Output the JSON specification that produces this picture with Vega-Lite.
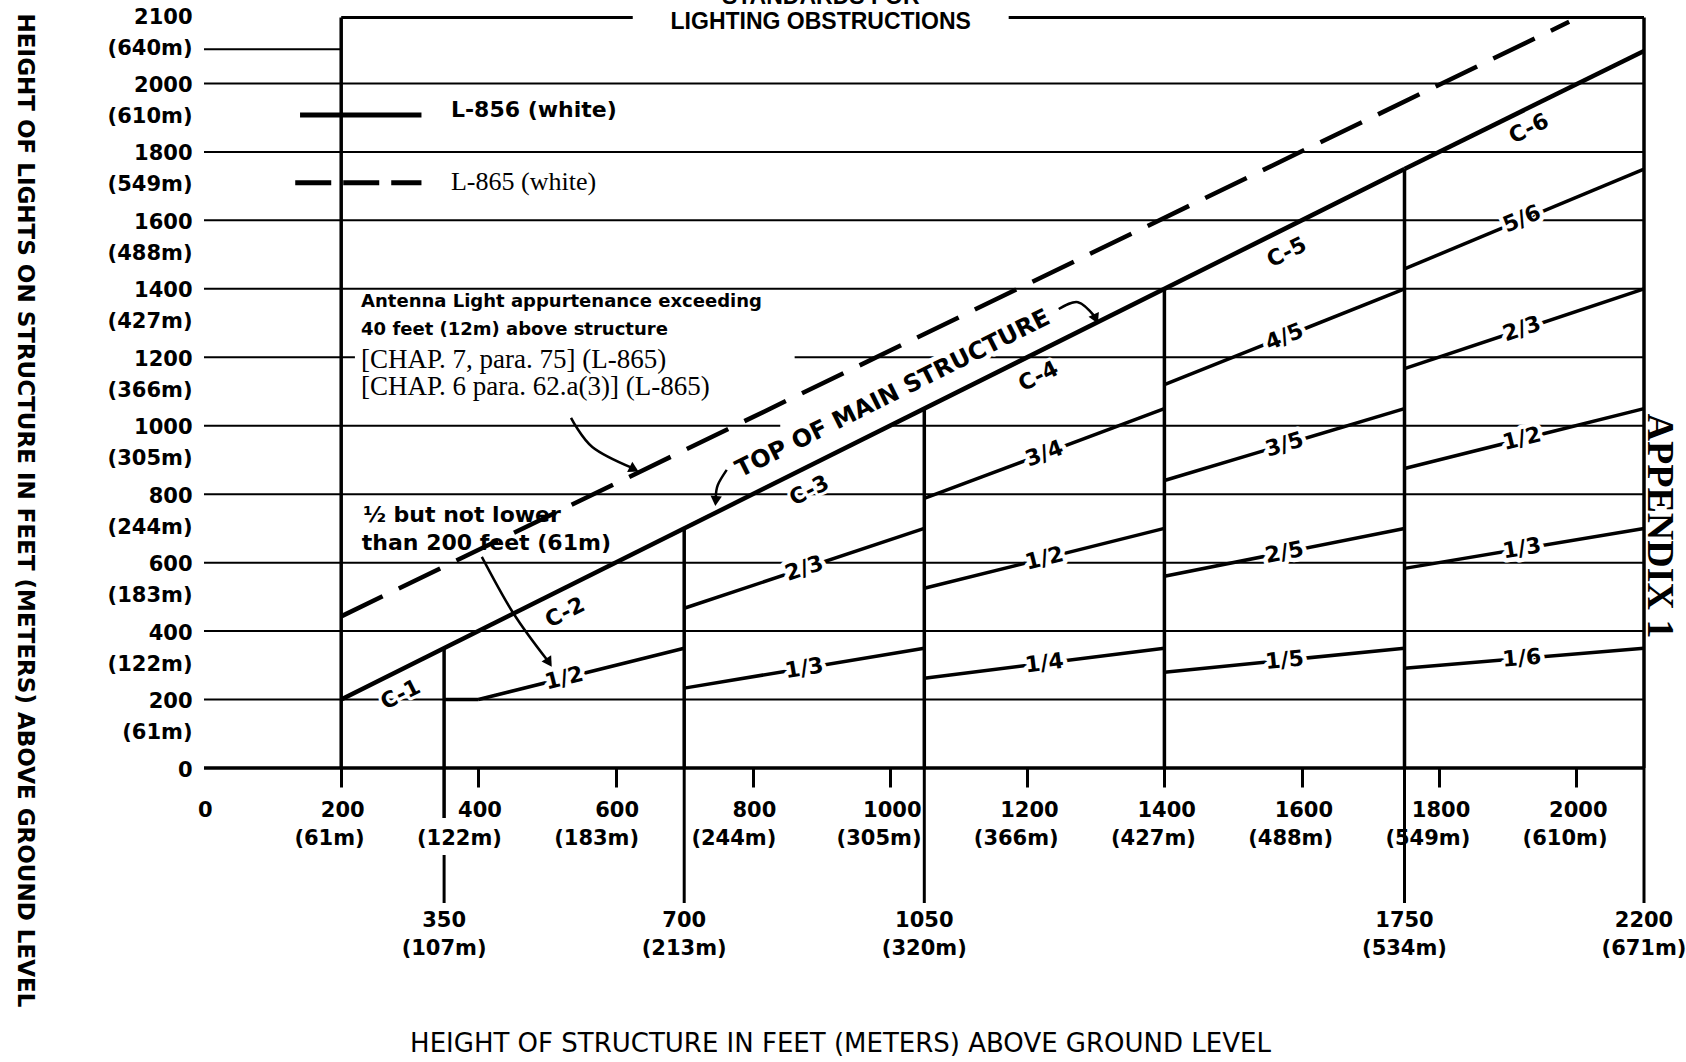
{
  "$schema": "https://vega.github.io/schema/vega-lite/v6.json",
  "width": 1440,
  "height": 753,
  "autosize": {"type": "none"},
  "padding": {"left": 204, "top": 15, "right": 42, "bottom": 294},
  "background": "white",
  "config": {"view": {"stroke": null}},
  "resolve": {"scale": {"angle": "independent"}},
  "datasets": {
    "hgrid": [
      {"x": 0, "x2": 2200, "y": 200}, {"x": 0, "x2": 2200, "y": 400}, {"x": 0, "x2": 2200, "y": 600},
      {"x": 0, "x2": 2200, "y": 800}, {"x": 0, "x2": 840, "y": 1000}, {"x": 1004, "x2": 2200, "y": 1000},
      {"x": 0, "x2": 220, "y": 1200}, {"x": 861, "x2": 2200, "y": 1200}, {"x": 0, "x2": 2200, "y": 1400},
      {"x": 0, "x2": 2200, "y": 1600}, {"x": 0, "x2": 2200, "y": 1800}, {"x": 0, "x2": 2200, "y": 2000},
      {"x": 0, "x2": 200, "y": 2100}
    ],
    "base": [{"x": 0, "x2": 2200, "y": 0}],
    "frame": [{"x": 200, "x2": 625, "y": 2193}, {"x": 1173, "x2": 2200, "y": 2193}],
    "vlines": [
      {"x": 200, "y": 0, "y2": 2193}, {"x": 350, "y": 0, "y2": 350}, {"x": 700, "y": 0, "y2": 700},
      {"x": 1050, "y": 0, "y2": 1050}, {"x": 1400, "y": 0, "y2": 1400}, {"x": 1750, "y": 0, "y2": 1750},
      {"x": 2200, "y": 0, "y2": 2193}
    ],
    "ext": [
      {"x": 700, "y": 0, "y2": 0}, {"x": 1050, "y": 0, "y2": 0},
      {"x": 1750, "y": 0, "y2": 0}, {"x": 2200, "y": 0, "y2": 0}
    ],
    "extSplit": [{"x": 350, "y": 0, "y2": 0}],
    "tops": [
      {"x": 200, "y": 200, "x2": 1750, "y2": 1750},
      {"x": 1750, "y": 1750, "x2": 2200, "y2": 2095}
    ],
    "dash": [{"x": 200, "y": 443, "x2": 1990, "y2": 2180}],
    "fracs": [
      {"x": 350, "y": 200, "x2": 400, "y2": 200},
      {"x": 400, "y": 200, "x2": 700, "y2": 350},
      {"x": 700, "y": 233.3, "x2": 1050, "y2": 350},
      {"x": 700, "y": 466.7, "x2": 1050, "y2": 700},
      {"x": 1050, "y": 262.5, "x2": 1400, "y2": 350},
      {"x": 1050, "y": 525, "x2": 1400, "y2": 700},
      {"x": 1050, "y": 787.5, "x2": 1400, "y2": 1050},
      {"x": 1400, "y": 280, "x2": 1750, "y2": 350},
      {"x": 1400, "y": 560, "x2": 1750, "y2": 700},
      {"x": 1400, "y": 840, "x2": 1750, "y2": 1050},
      {"x": 1400, "y": 1120, "x2": 1750, "y2": 1400},
      {"x": 1750, "y": 291.7, "x2": 2200, "y2": 350},
      {"x": 1750, "y": 583.3, "x2": 2200, "y2": 700},
      {"x": 1750, "y": 875, "x2": 2200, "y2": 1050},
      {"x": 1750, "y": 1166.7, "x2": 2200, "y2": 1400},
      {"x": 1750, "y": 1458.3, "x2": 2200, "y2": 1750}
    ],
    "flabels": [
      {"x": 525, "y": 262.5, "label": "1/2", "f": 0.5},
      {"x": 875, "y": 291.7, "label": "1/3", "f": 0.333},
      {"x": 875, "y": 583.3, "label": "2/3", "f": 0.667},
      {"x": 1225, "y": 306.3, "label": "1/4", "f": 0.25},
      {"x": 1225, "y": 612.5, "label": "1/2", "f": 0.5},
      {"x": 1225, "y": 918.8, "label": "3/4", "f": 0.75},
      {"x": 1575, "y": 315, "label": "1/5", "f": 0.2},
      {"x": 1575, "y": 630, "label": "2/5", "f": 0.4},
      {"x": 1575, "y": 945, "label": "3/5", "f": 0.6},
      {"x": 1575, "y": 1260, "label": "4/5", "f": 0.8},
      {"x": 1921, "y": 320.8, "label": "1/6", "f": 0.167},
      {"x": 1921, "y": 641.7, "label": "1/3", "f": 0.333},
      {"x": 1921, "y": 962.5, "label": "1/2", "f": 0.5},
      {"x": 1921, "y": 1283.3, "label": "2/3", "f": 0.667},
      {"x": 1921, "y": 1604.2, "label": "5/6", "f": 0.833}
    ],
    "clabels": [
      {"x": 272, "y": 272, "label": "C-1", "f": 1},
      {"x": 512, "y": 512, "label": "C-2", "f": 1},
      {"x": 868, "y": 868, "label": "C-3", "f": 1},
      {"x": 1202, "y": 1202, "label": "C-4", "f": 1},
      {"x": 1564, "y": 1564, "label": "C-5", "f": 1},
      {"x": 1917, "y": 1926, "label": "C-6", "f": 1}
    ],
    "toptext": [{"x": 1022, "y": 1022, "label": "TOP OF MAIN STRUCTURE", "f": 1}],
    "headline": [
      {"x": 899, "y": 2254, "label": "STANDARDS FOR"},
      {"x": 899, "y": 2180, "label": "LIGHTING OBSTRUCTIONS"}
    ],
    "notesSans": [
      {"x": 229, "y": 1362, "label": "Antenna Light appurtenance exceeding"},
      {"x": 229, "y": 1280, "label": "40 feet (12m) above structure"}
    ],
    "notesSerif": [
      {"x": 229, "y": 1192, "label": "[CHAP. 7, para. 75] (L-865)"},
      {"x": 229, "y": 1113, "label": "[CHAP. 6 para. 62.a(3)] (L-865)"}
    ],
    "notesHalf": [
      {"x": 232, "y": 739, "label": "½ but not lower"},
      {"x": 230, "y": 656, "label": "than 200 feet (61m)"}
    ],
    "legSolid": [{"x": 140, "x2": 317, "y": 1908}],
    "legDash": [{"x": 133, "x2": 317, "y": 1710}],
    "legSolidLabel": [{"x": 360, "y": 1921, "label": "L-856 (white)"}],
    "legDashLabel": [{"x": 360, "y": 1712, "label": "L-865 (white)"}],
    "xlab2": [
      {"x": 350, "y": 0, "label": "350\n(107m)"},
      {"x": 700, "y": 0, "label": "700\n(213m)"},
      {"x": 1050, "y": 0, "label": "1050\n(320m)"},
      {"x": 1750, "y": 0, "label": "1750\n(534m)"},
      {"x": 2200, "y": 0, "label": "2200\n(671m)"}
    ],
    "appendix": [{"x": 2245, "y": 707, "label": "APPENDIX 1"}],
    "arrows": [
      {"arrow": "a", "i": 1, "x": 535, "y": 1023}, {"arrow": "a", "i": 2, "x": 566, "y": 938}, {"arrow": "a", "i": 3, "x": 625, "y": 876},
      {"arrow": "b", "i": 1, "x": 1246, "y": 1341}, {"arrow": "b", "i": 2, "x": 1274, "y": 1361}, {"arrow": "b", "i": 3, "x": 1299, "y": 1318},
      {"arrow": "c", "i": 1, "x": 762, "y": 871}, {"arrow": "c", "i": 2, "x": 749, "y": 827}, {"arrow": "c", "i": 3, "x": 746, "y": 790},
      {"arrow": "d", "i": 1, "x": 405, "y": 617}, {"arrow": "d", "i": 2, "x": 451, "y": 452}, {"arrow": "d", "i": 3, "x": 500, "y": 316}
    ],
    "heads": [
      {"x": 627, "y": 873, "heading": 27},
      {"x": 1300, "y": 1312, "heading": 65},
      {"x": 746, "y": 780, "heading": 95},
      {"x": 503, "y": 308, "heading": 57}
    ]
  },
  "encoding": {
    "x": {
      "field": "x", "type": "quantitative",
      "scale": {"domain": [0, 2000, 2200], "range": [0, 1372, 1440], "nice": false, "zero": false},
      "axis": {
        "values": [0, 200, 400, 600, 800, 1000, 1200, 1400, 1600, 1800, 2000],
        "format": "d",
        "labelExpr": "datum.value == 0 ? '0' : [datum.label, '(' + round(datum.value * 0.3048) + 'm)']",
        "title": "HEIGHT OF STRUCTURE IN FEET (METERS) ABOVE GROUND LEVEL",
        "titleFont": "DejaVu Sans", "titleFontSize": 26, "titleFontWeight": "normal", "titleColor": "black",
        "titleX": 636, "titleY": 275, "titleAlign": "center", "titleBaseline": "middle", "titleAnchor": "start",
        "domain": false, "grid": false,
        "tickSize": 19, "tickWidth": 3, "tickColor": "black",
        "tickOpacity": {"condition": {"test": "datum.value == 0", "value": 0}, "value": 1},
        "labelFont": "DejaVu Sans", "labelFontSize": 21, "labelFontWeight": "bold", "labelColor": "black",
        "labelAlign": "right", "labelBaseline": "top", "labelLineHeight": 28, "labelPadding": 12,
        "labelOffset": {"condition": [{"test": "datum.value == 0", "value": 8}, {"test": "datum.value >= 1000", "value": 31}], "value": 23},
        "labelFlush": false, "labelOverlap": false, "labelBound": false
      }
    },
    "y": {
      "field": "y", "type": "quantitative",
      "scale": {"domain": [0, 2200], "nice": false, "zero": false},
      "axis": {
        "values": [0, 200, 400, 600, 800, 1000, 1200, 1400, 1600, 1800, 2000, 2100],
        "format": "d",
        "labelExpr": "datum.value == 0 ? '0' : [datum.label, '(' + round(datum.value * 0.3048) + 'm)']",
        "title": "HEIGHT OF LIGHTS ON STRUCTURE IN FEET (METERS) ABOVE GROUND LEVEL",
        "titleAngle": 90, "titleX": -180, "titleY": 495, "titleAlign": "center", "titleBaseline": "middle", "titleAnchor": "start",
        "titleFont": "DejaVu Sans", "titleFontSize": 23, "titleFontWeight": "bold", "titleColor": "black",
        "domain": false, "ticks": false, "grid": false,
        "labelFont": "DejaVu Sans", "labelFontSize": 21, "labelFontWeight": "bold", "labelColor": "black",
        "labelAlign": "right", "labelBaseline": "top", "labelLineHeight": 31, "labelPadding": 12,
        "labelOffset": {"condition": {"test": "datum.value == 2100", "value": -43}, "value": -9},
        "labelFlush": false, "labelOverlap": false, "labelBound": false
      }
    }
  },
  "layer": [
    {"data": {"name": "hgrid"}, "mark": {"type": "rule", "color": "black", "strokeWidth": 2}, "encoding": {"x2": {"field": "x2"}}},
    {"data": {"name": "base"}, "mark": {"type": "rule", "color": "black", "strokeWidth": 3.5}, "encoding": {"x2": {"field": "x2"}}},
    {"data": {"name": "frame"}, "mark": {"type": "rule", "color": "black", "strokeWidth": 3}, "encoding": {"x2": {"field": "x2"}}},
    {"data": {"name": "vlines"}, "mark": {"type": "rule", "color": "black", "strokeWidth": 3.5}, "encoding": {"y2": {"field": "y2"}}},
    {"data": {"name": "ext"}, "mark": {"type": "rule", "color": "black", "strokeWidth": 3, "y2Offset": 135}, "encoding": {"y2": {"field": "y2"}}},
    {"data": {"name": "extSplit"}, "mark": {"type": "rule", "color": "black", "strokeWidth": 3.5, "y2Offset": 50}, "encoding": {"y2": {"field": "y2"}}},
    {"data": {"name": "extSplit"}, "mark": {"type": "rule", "color": "black", "strokeWidth": 3, "yOffset": 87, "y2Offset": 135}, "encoding": {"y2": {"field": "y2"}}},
    {"data": {"name": "fracs"}, "mark": {"type": "rule", "color": "black", "strokeWidth": 3.5}, "encoding": {"x2": {"field": "x2"}, "y2": {"field": "y2"}}},
    {"data": {"name": "tops"}, "mark": {"type": "rule", "color": "black", "strokeWidth": 4.5}, "encoding": {"x2": {"field": "x2"}, "y2": {"field": "y2"}}},
    {"data": {"name": "dash"}, "mark": {"type": "rule", "color": "black", "strokeWidth": 4.5, "strokeDash": [46, 18]}, "encoding": {"x2": {"field": "x2"}, "y2": {"field": "y2"}}},
    {"data": {"name": "legSolid"}, "mark": {"type": "rule", "color": "black", "strokeWidth": 5}, "encoding": {"x2": {"field": "x2"}}},
    {"data": {"name": "legDash"}, "mark": {"type": "rule", "color": "black", "strokeWidth": 5, "strokeDash": [36, 12]}, "encoding": {"x2": {"field": "x2"}}},
    {"data": {"name": "arrows"}, "mark": {"type": "line", "color": "black", "strokeWidth": 2.5, "interpolate": "cardinal"}, "encoding": {"detail": {"field": "arrow"}, "order": {"field": "i"}}},
    {"data": {"name": "heads"}, "mark": {"type": "point", "shape": "triangle-right", "filled": true, "color": "black", "size": 130, "opacity": 1}, "encoding": {"angle": {"field": "heading", "type": "quantitative", "scale": null}}},
    {"data": {"name": "flabels"}, "mark": {"type": "text", "font": "DejaVu Sans", "fontSize": 22, "fontWeight": "bold", "fill": "white", "stroke": "white", "strokeWidth": 9, "strokeJoin": "round", "align": "center", "baseline": "middle"},
     "encoding": {"text": {"field": "label"}, "angle": {"field": "f", "type": "quantitative", "scale": {"domain": [0, 0.25, 0.5, 0.75, 1], "range": [0, -7.1, -14.0, -20.5, -26.5]}, "legend": null}}},
    {"data": {"name": "flabels"}, "mark": {"type": "text", "font": "DejaVu Sans", "fontSize": 22, "fontWeight": "bold", "color": "black", "align": "center", "baseline": "middle"},
     "encoding": {"text": {"field": "label"}, "angle": {"field": "f", "type": "quantitative", "scale": {"domain": [0, 0.25, 0.5, 0.75, 1], "range": [0, -7.1, -14.0, -20.5, -26.5]}, "legend": null}}},
    {"data": {"name": "clabels"}, "mark": {"type": "text", "font": "DejaVu Sans", "fontSize": 22, "fontWeight": "bold", "fill": "white", "stroke": "white", "strokeWidth": 6, "strokeJoin": "round", "align": "center", "baseline": "middle", "dy": 22},
     "encoding": {"text": {"field": "label"}, "angle": {"field": "f", "type": "quantitative", "scale": {"domain": [0, 0.25, 0.5, 0.75, 1], "range": [0, -7.1, -14.0, -20.5, -26.5]}, "legend": null}}},
    {"data": {"name": "clabels"}, "mark": {"type": "text", "font": "DejaVu Sans", "fontSize": 22, "fontWeight": "bold", "color": "black", "align": "center", "baseline": "middle", "dy": 22},
     "encoding": {"text": {"field": "label"}, "angle": {"field": "f", "type": "quantitative", "scale": {"domain": [0, 0.25, 0.5, 0.75, 1], "range": [0, -7.1, -14.0, -20.5, -26.5]}, "legend": null}}},
    {"data": {"name": "toptext"}, "mark": {"type": "text", "font": "DejaVu Sans", "fontSize": 24, "fontWeight": "bold", "fill": "white", "stroke": "white", "strokeWidth": 10, "strokeJoin": "round", "align": "center", "baseline": "middle", "dy": -27},
     "encoding": {"text": {"field": "label"}, "angle": {"field": "f", "type": "quantitative", "scale": {"domain": [0, 0.25, 0.5, 0.75, 1], "range": [0, -7.1, -14.0, -20.5, -26.5]}, "legend": null}}},
    {"data": {"name": "toptext"}, "mark": {"type": "text", "font": "DejaVu Sans", "fontSize": 24, "fontWeight": "bold", "color": "black", "align": "center", "baseline": "middle", "dy": -27},
     "encoding": {"text": {"field": "label"}, "angle": {"field": "f", "type": "quantitative", "scale": {"domain": [0, 0.25, 0.5, 0.75, 1], "range": [0, -7.1, -14.0, -20.5, -26.5]}, "legend": null}}},
    {"data": {"name": "headline"}, "mark": {"type": "text", "font": "Liberation Sans", "fontSize": 23, "fontWeight": "bold", "color": "black", "align": "center", "baseline": "middle"}, "encoding": {"text": {"field": "label"}}},
    {"data": {"name": "notesSans"}, "mark": {"type": "text", "font": "DejaVu Sans", "fontSize": 18, "fontWeight": "bold", "color": "black", "align": "left", "baseline": "middle"}, "encoding": {"text": {"field": "label"}}},
    {"data": {"name": "notesSerif"}, "mark": {"type": "text", "font": "Liberation Serif", "fontSize": 27, "color": "black", "align": "left", "baseline": "middle"}, "encoding": {"text": {"field": "label"}}},
    {"data": {"name": "notesHalf"}, "mark": {"type": "text", "font": "DejaVu Sans", "fontSize": 22, "fontWeight": "bold", "color": "black", "align": "left", "baseline": "middle"}, "encoding": {"text": {"field": "label"}}},
    {"data": {"name": "legSolidLabel"}, "mark": {"type": "text", "font": "DejaVu Sans", "fontSize": 22, "fontWeight": "bold", "color": "black", "align": "left", "baseline": "middle"}, "encoding": {"text": {"field": "label"}}},
    {"data": {"name": "legDashLabel"}, "mark": {"type": "text", "font": "Liberation Serif", "fontSize": 26, "color": "black", "align": "left", "baseline": "middle"}, "encoding": {"text": {"field": "label"}}},
    {"data": {"name": "xlab2"}, "mark": {"type": "text", "font": "DejaVu Sans", "fontSize": 21, "fontWeight": "bold", "color": "black", "align": "center", "baseline": "top", "dy": 142, "lineHeight": 28, "lineBreak": "\n"}, "encoding": {"text": {"field": "label"}}},
    {"data": {"name": "appendix"}, "mark": {"type": "text", "font": "Liberation Serif", "fontSize": 38, "fontWeight": "bold", "color": "black", "align": "center", "baseline": "middle", "angle": 90}, "encoding": {"text": {"field": "label"}}}
  ]
}
